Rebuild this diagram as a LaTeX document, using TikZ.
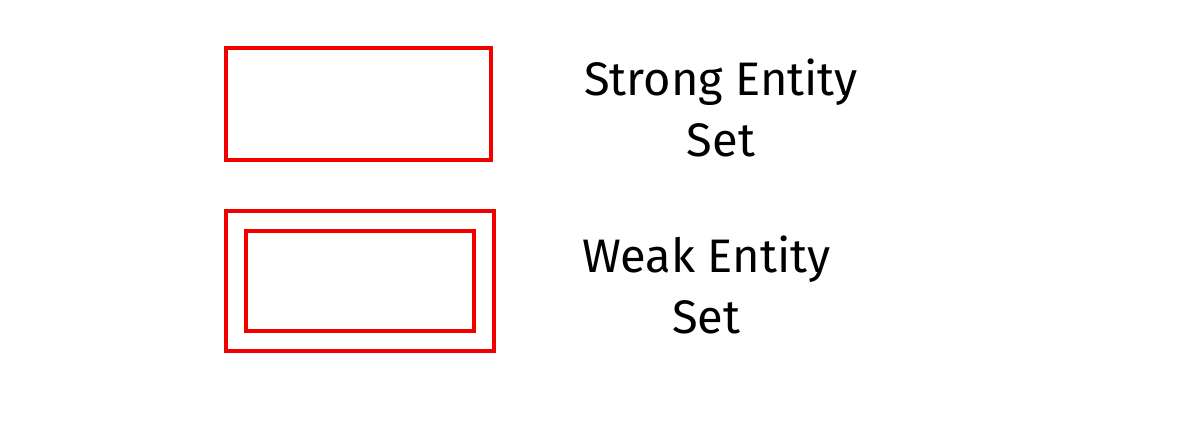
\documentclass[tikz,border=0pt]{standalone}
\usepackage{fontspec}
\setmainfont{Fira Sans}
\usetikzlibrary{positioning}

\begin{document}
\begin{tikzpicture}[x=1pt, y=1pt,
        entity/.style={rectangle, draw=red!95!black, line width=4pt, inner sep=0pt},
        label/.style={align=center, inner sep=0pt, font=\fontsize{47}{61}\selectfont}
    ]
        \useasboundingbox[fill=white] (0,0) rectangle (1187,-423);

        % Strong entity set
        \node[entity, minimum width=265, minimum height=112] (strong) at (358.5,-104) {};
        \node[label, right=91 of strong, yshift=-4] (strongtxt) {Strong Entity\\Set};

        % Weak entity set
        \node[entity, minimum width=268, minimum height=140] (weak) at (360,-281) {};
        \node[entity, minimum width=228, minimum height=100] (weakin) at (weak.center) {};
        \node[label, right=86 of weak, yshift=-4] (weaktxt) {Weak Entity\\Set};

    \end{tikzpicture}
\end{document}
